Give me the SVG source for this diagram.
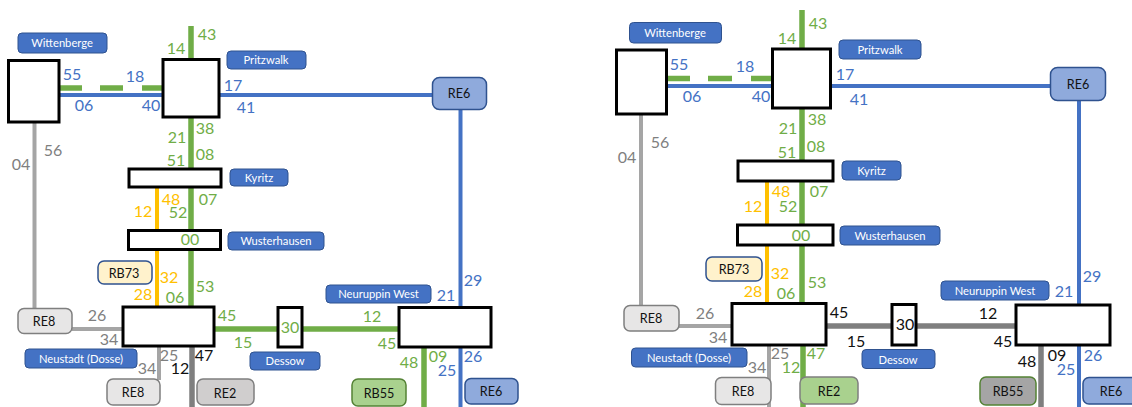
<svg xmlns="http://www.w3.org/2000/svg" width="1132" height="407" viewBox="0 0 1132 407">
<style>
text{font-family:"Lato","Liberation Sans",sans-serif;text-anchor:middle}
.st{fill:#fff;stroke:#000;stroke-width:3}
.lb{fill:#4472c4;stroke:#2f528f;stroke-width:1}
.lb+text{fill:#fff;font-size:11.200px}
.rt{stroke-width:1.5}
.rt+text{fill:#111;font-size:12.600px}
.re6{fill:#8faadc;stroke:#2f528f}
.re8{fill:#e7e6e6;stroke:#7f7f7f}
.re2{fill:#d0cece;stroke:#7f7f7f}
.rb73{fill:#fff2cc;stroke:#2f528f}
.rbg{fill:#a9d18e;stroke:#548235}
.rgg{fill:#a9d18e;stroke:#7f7f7f}
.rbk{fill:#a5a5a5;stroke:#548235}
.c{fill:none;stroke-width:4}
.g{stroke:#70ad47;stroke-width:5.500}
.b{stroke:#4472c4}
.y{stroke:#ffc000}
.l{stroke:#a5a5a5}
.d{stroke:#7f7f7f;stroke-width:5.500}
.n text{font-size:16px}
.ng{fill:#70ad47}.nb{fill:#4472c4}.ny{fill:#ffc000}.nl{fill:#7f7f7f}.nk{fill:#111}
</style>
<g id="connectors">
<path class="c g" d="M191 26V169M191 187V231M191 250V308"/>
<path class="c g" d="M60 88H82M100 88H123M142 88H165"/>
<path class="c b" d="M59 95H163M219 95H433M460.500 109V308M460.500 347V407"/>
<path class="c y" d="M157 187V231M157 250V308"/>
<path class="c l" d="M34.500 122V309M72 329H123M159 346V380"/>
<path class="c d" d="M192 346V407"/>
<path class="c g" d="M214 329H278M302 329H399M424 347V407"/>
<path class="c g" d="M802 10V161M802 181V226M802 245V304M803 345V407"/>
<path class="c g" d="M667 78.500H690M708 78.500H732M751 78.500H775"/>
<path class="c b" d="M666 86H772M831 86H1051M1079 100V305M1079 345V407"/>
<path class="c y" d="M767 181V226M767 245V304"/>
<path class="c l" d="M641 114V306M679 326H732M769 345V407"/>
<path class="c d" d="M826 326H892M916 326H1016M1041 345V407"/>
</g>
<g id="n-wittenberge-1"><rect class="st" x="8.500" y="60.500" width="50.500" height="61.500"/><rect class="lb" x="18" y="33" width="89" height="20" rx="4"/><text x="62" y="47">Wittenberge</text></g>
<g id="n-pritzwalk-1"><rect class="st" x="163" y="59.500" width="56" height="57.500"/><rect class="lb" x="227" y="51" width="79" height="18" rx="4"/><text x="266" y="64">Pritzwalk</text></g>
<g id="n-kyritz-1"><rect class="st" x="129" y="169" width="92" height="18"/><rect class="lb" x="230" y="169" width="58" height="17" rx="4"/><text x="259" y="182">Kyritz</text></g>
<g id="n-wusterhausen-1"><rect class="st" x="128.500" y="230.500" width="92" height="19"/><rect class="lb" x="228" y="232" width="96" height="18" rx="4"/><text x="276" y="245">Wusterhausen</text></g>
<g id="n-neustadt-1"><rect class="st" x="123" y="307" width="91" height="39"/><rect class="lb" x="25" y="349" width="112" height="19" rx="4"/><text x="81" y="363">Neustadt (Dosse)</text></g>
<g id="n-dessow-1"><rect class="st" x="278" y="307.500" width="24" height="39.500"/><rect class="lb" x="250" y="352" width="70" height="18" rx="4"/><text x="285" y="365">Dessow</text></g>
<g id="n-neuruppin-1"><rect class="st" x="399" y="307.500" width="92" height="39.500"/><rect class="lb" x="326" y="285" width="105" height="18" rx="4"/><text x="378.500" y="298">Neuruppin West</text></g>
<g id="n-re6-top-1"><rect class="rt re6" x="432.500" y="77.500" width="54" height="32" rx="7"/><text x="459" y="98">RE6</text></g>
<g id="n-rb73-1"><rect class="rt rb73" x="98" y="261" width="54" height="23" rx="6"/><text x="124" y="278">RB73</text></g>
<g id="n-re8-w-1"><rect class="rt re8" x="18" y="308.500" width="54" height="25" rx="6"/><text x="44" y="326">RE8</text></g>
<g id="n-re8-s-1"><rect class="rt re8" x="107" y="379" width="53" height="26" rx="6"/><text x="133" y="397">RE8</text></g>
<g id="n-re2-1"><rect class="rt re2" x="197" y="379" width="57" height="26" rx="6"/><text x="225" y="398">RE2</text></g>
<g id="n-rb55-1"><rect class="rt rbg" x="352" y="379" width="54" height="27" rx="6"/><text x="379" y="398">RB55</text></g>
<g id="n-re6-s-1"><rect class="rt re6" x="465" y="378.500" width="53" height="25.500" rx="6"/><text x="491" y="396">RE6</text></g>
<g id="n-wittenberge-2"><rect class="st" x="616.500" y="50" width="50" height="64"/><rect class="lb" x="629.500" y="22.500" width="92" height="20.500" rx="4"/><text x="675" y="37">Wittenberge</text></g>
<g id="n-pritzwalk-2"><rect class="st" x="772.500" y="49" width="58" height="59"/><rect class="lb" x="839" y="40" width="82" height="19" rx="4"/><text x="880" y="54">Pritzwalk</text></g>
<g id="n-kyritz-2"><rect class="st" x="738" y="161" width="95" height="20"/><rect class="lb" x="842" y="161" width="59" height="19" rx="4"/><text x="871.500" y="175">Kyritz</text></g>
<g id="n-wusterhausen-2"><rect class="st" x="737.500" y="225" width="95.500" height="20"/><rect class="lb" x="840" y="226" width="100" height="19" rx="4"/><text x="890" y="240">Wusterhausen</text></g>
<g id="n-neustadt-2"><rect class="st" x="732" y="303.500" width="94" height="41.500"/><rect class="lb" x="631.500" y="348" width="115.500" height="19" rx="4"/><text x="689" y="362">Neustadt (Dosse)</text></g>
<g id="n-dessow-2"><rect class="st" x="892" y="304.500" width="24" height="40.500"/><rect class="lb" x="862" y="349.500" width="73" height="19" rx="4"/><text x="898" y="364">Dessow</text></g>
<g id="n-neuruppin-2"><rect class="st" x="1016" y="305" width="94" height="40"/><rect class="lb" x="941" y="281" width="108" height="19" rx="4"/><text x="995" y="295">Neuruppin West</text></g>
<g id="n-re6-top-2"><rect class="rt re6" x="1050.500" y="67.500" width="55" height="33" rx="7"/><text x="1078" y="89">RE6</text></g>
<g id="n-rb73-2"><rect class="rt rb73" x="706" y="257" width="56" height="24" rx="6"/><text x="734" y="274">RB73</text></g>
<g id="n-re8-w-2"><rect class="rt re8" x="624" y="305.500" width="55" height="25.500" rx="6"/><text x="651" y="323">RE8</text></g>
<g id="n-re8-s-2"><rect class="rt re8" x="715.500" y="377.500" width="55.500" height="27" rx="6"/><text x="743" y="396">RE8</text></g>
<g id="n-re2-2"><rect class="rt rgg" x="800" y="377" width="58" height="27" rx="6"/><text x="829" y="396">RE2</text></g>
<g id="n-rb55-2"><rect class="rt rbk" x="980" y="377" width="56" height="28" rx="6"/><text x="1008" y="396">RB55</text></g>
<g id="n-re6-s-2"><rect class="rt re6" x="1083" y="377.500" width="56" height="26.500" rx="6"/><text x="1111" y="396">RE6</text></g>
<g id="numbers" class="n">
<g class="ng"><text x="207" y="40">43</text><text x="176" y="54">14</text><text x="205" y="134">38</text><text x="177" y="143">21</text><text x="205" y="160">08</text><text x="176" y="166">51</text><text x="208" y="205">07</text><text x="178" y="218">52</text><text x="190" y="245">00</text><text x="205" y="292">53</text><text x="175" y="303">06</text><text x="227" y="321">45</text><text x="290" y="333">30</text><text x="243" y="348">15</text><text x="372" y="322">12</text><text x="387" y="349">45</text><text x="409" y="368">48</text><text x="438" y="362">09</text>
<text x="818" y="29">43</text><text x="787" y="44">14</text><text x="817" y="125">38</text><text x="788" y="134">21</text><text x="816" y="152">08</text><text x="787" y="158">51</text><text x="819" y="197">07</text><text x="788" y="212">52</text><text x="801" y="241">00</text><text x="817" y="288">53</text><text x="786" y="299">06</text><text x="816" y="359">47</text><text x="791" y="373">12</text></g>
<g class="nb"><text x="72" y="80">55</text><text x="135" y="82">18</text><text x="84" y="111">06</text><text x="151" y="111">40</text><text x="233" y="91">17</text><text x="246" y="113">41</text><text x="473" y="286">29</text><text x="446" y="301">21</text><text x="473" y="362">26</text><text x="447" y="376">25</text>
<text x="679" y="70">55</text><text x="745" y="72">18</text><text x="692" y="102">06</text><text x="761" y="102">40</text><text x="845" y="80">17</text><text x="859" y="105">41</text><text x="1092" y="282">29</text><text x="1064" y="297">21</text><text x="1093" y="361">26</text><text x="1066" y="375">25</text></g>
<g class="ny"><text x="171" y="205">48</text><text x="143" y="217">12</text><text x="169" y="283">32</text><text x="143" y="300">28</text>
<text x="781" y="197">48</text><text x="753" y="212">12</text><text x="780" y="279">32</text><text x="753" y="297">28</text></g>
<g class="nl"><text x="53" y="156">56</text><text x="21" y="170">04</text><text x="97" y="321">26</text><text x="109" y="345">34</text><text x="169" y="361">25</text><text x="147" y="374">34</text>
<text x="660" y="148">56</text><text x="627" y="163">04</text><text x="705" y="319">26</text><text x="718" y="343">34</text><text x="780" y="359">25</text><text x="757" y="373">34</text></g>
<g class="nk"><text x="204" y="361">47</text><text x="180" y="374">12</text>
<text x="839" y="318">45</text><text x="856" y="347">15</text><text x="905" y="330">30</text><text x="988" y="319">12</text><text x="1003" y="347">45</text><text x="1027" y="367">48</text><text x="1057" y="361">09</text></g>
</g>
</svg>
